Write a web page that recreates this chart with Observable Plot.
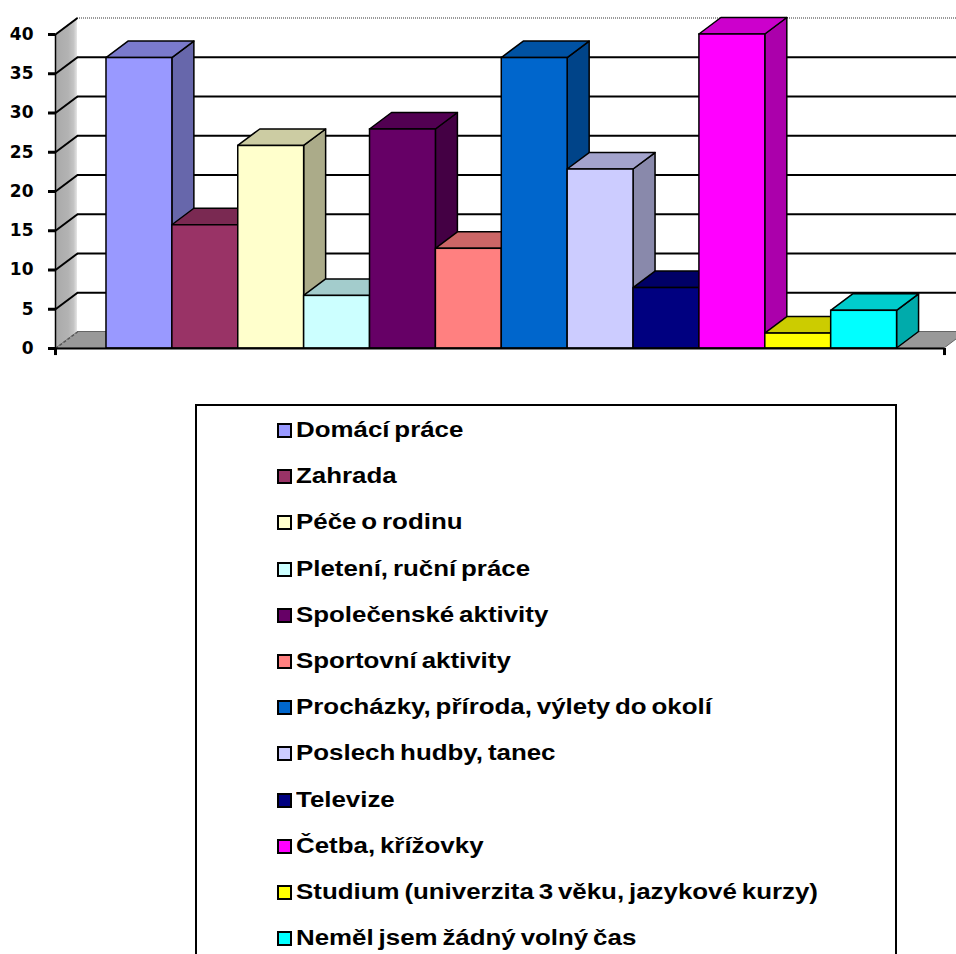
<!DOCTYPE html>
<html>
<head>
<meta charset="utf-8">
<script src="https://cdn.jsdelivr.net/npm/d3@7"></script>
<script src="https://cdn.jsdelivr.net/npm/@observablehq/plot@0.6"></script>
<style>
  html, body { margin: 0; padding: 0; background: #fff; overflow: hidden; }
  #wrap { position: relative; width: 956px; height: 954px; }
  #chart { position: absolute; left: 0; top: 0; }
  #legend {
    position: absolute; left: 195px; top: 404px; width: 698px; height: 560px;
    border: 2px solid #000; box-sizing: content-box; padding-top: 1px;
    font-family: "Liberation Sans", Arial, sans-serif;
    font-weight: bold; font-size: 22.5px; color: #000;
  }
  .row { height: 46.2px; line-height: 46.2px; padding-left: 80px; white-space: nowrap; }
  .sw { display: inline-block; width: 11px; height: 11px; border: 2px solid #000; margin-right: 4px; vertical-align: -1px; }
  .lt { display: inline-block; transform: scaleX(1.15); transform-origin: 0 50%; word-spacing: -2px; }
</style>
</head>
<body>
<div id="wrap">
  <div id="chart"></div>
  <div id="legend"></div>
</div>
<script>
const categories = [
  "Domácí práce",
  "Zahrada",
  "Péče o rodinu",
  "Pletení, ruční práce",
  "Společenské aktivity",
  "Sportovní aktivity",
  "Procházky, příroda, výlety do okolí",
  "Poslech hudby, tanec",
  "Televize",
  "Četba, křížovky",
  "Studium (univerzita 3 věku, jazykové kurzy)",
  "Neměl jsem žádný volný čas"
];
const values = [37, 15.7, 25.8, 6.7, 27.9, 12.7, 37, 22.8, 7.7, 40, 1.9, 4.8];
const colors = ["#9999FF", "#993366", "#FFFFCC", "#CCFFFF", "#660066", "#FF8080",
                "#0066CC", "#CCCCFF", "#000080", "#FF00FF", "#FFFF00", "#00FFFF"];
const yTicks = [0, 5, 10, 15, 20, 25, 30, 35, 40];

// geometry of the oblique 3D projection (in scale units)
const X0 = -0.774, X1 = 12.72, XBACK = 13.4;
const DX = 0.334, DY = 2.1;
const YMAX = 40;

function shade(c, k) {
  const r = d3.rgb(c);
  return d3.rgb(r.r * k, r.g * k, r.b * k).formatHex();
}

const bars = categories.map((c, i) => ({c, i, v: values[i], color: colors[i]}));
const sidePts = bars.flatMap(b => [
  {i: b.i, x: b.i + 1, y1: 0, y2: b.v, fill: shade(b.color, 0.67)},
  {i: b.i, x: b.i + 1 + DX, y1: DY, y2: b.v + DY, fill: shade(b.color, 0.67)}
]);
const topPts = bars.flatMap(b => [
  {i: b.i, y: b.v, x1: b.i, x2: b.i + 1, fill: shade(b.color, 0.8)},
  {i: b.i, y: b.v + DY, x1: b.i + DX, x2: b.i + 1 + DX, fill: shade(b.color, 0.8)}
]);

const floorPts = [{y: 0, x1: X0, x2: X1}, {y: DY, x1: X0 + DX, x2: X1 + DX}];
const wallPts = [{x: X0, y1: 0, y2: YMAX}, {x: X0 + DX, y1: DY, y2: YMAX + DY}];

const defsMark = () => {
  const ns = "http://www.w3.org/2000/svg";
  const defs = document.createElementNS(ns, "defs");
  const g = document.createElementNS(ns, "linearGradient");
  g.setAttribute("id", "wallGrad");
  g.setAttribute("x1", "0"); g.setAttribute("x2", "1"); g.setAttribute("y1", "0"); g.setAttribute("y2", "0");
  [["0", "#a9a9a9"], ["0.6", "#b3b3b3"], ["0.85", "#c4c4c4"], ["1", "#e6e6e6"]].forEach(([o, c]) => {
    const s = document.createElementNS(ns, "stop");
    s.setAttribute("offset", o); s.setAttribute("stop-color", c);
    g.appendChild(s);
  });
  defs.appendChild(g);
  return defs;
};

const plot = Plot.plot({
  width: 956,
  height: 400,
  marginLeft: 55,
  marginRight: 12,
  marginTop: 34,
  marginBottom: 52,
  style: {fontFamily: "DejaVu Sans, Verdana, sans-serif", fontSize: "17px", fontWeight: "bold", color: "#000", background: "#fff"},
  x: {domain: [X0, X1], axis: null},
  y: {domain: [0, YMAX], axis: null},
  color: {type: "identity"},
  marks: [
    defsMark,
    // floor
    Plot.areaX(floorPts, {y: "y", x1: "x1", x2: "x2", fill: "#999999", stroke: "#666", strokeWidth: 1}),
    // left side wall
    Plot.areaY(wallPts, {x: "x", y1: "y1", y2: "y2", fill: "url(#wallGrad)", stroke: "none"}),
    // back wall top edge (dotted)
    Plot.ruleY([YMAX], {y: d => d + DY, x1: X0 + DX, x2: XBACK, stroke: "#777", strokeWidth: 1.5, strokeDasharray: "1,1"}),
    // back wall gridlines
    Plot.ruleY(yTicks.filter(v => v > 0 && v < YMAX), {y: d => d + DY, x1: X0 + DX, x2: XBACK, stroke: "#000", strokeWidth: 2}),
    // side wall gridlines
    Plot.link(yTicks.filter(v => v > 0), {x1: X0, y1: d => d, x2: X0 + DX, y2: d => d + DY, stroke: "#000", strokeWidth: 2}),
    Plot.link([0], {x1: X0, y1: d => d, x2: X0 + DX, y2: d => d + DY, stroke: "#555", strokeWidth: 1.5, strokeDasharray: "3,2"}),
    // bars: sides, tops, fronts
    Plot.areaY(sidePts, {x: "x", y1: "y1", y2: "y2", z: "i", fill: "fill", stroke: "#000", strokeWidth: 1.5, curve: "linear"}),
    Plot.areaX(topPts, {y: "y", x1: "x1", x2: "x2", z: "i", fill: "fill", stroke: "#000", strokeWidth: 1.5, curve: "linear"}),
    Plot.rectY(bars, {x1: "i", x2: d => d.i + 1, y1: 0, y2: "v", fill: "color", stroke: "#000", strokeWidth: 1.5}),
    // axes lines
    Plot.ruleX([X0], {y1: 0, y2: YMAX, stroke: "#000", strokeWidth: 1.5}),
    Plot.ruleY([0], {x1: X0, x2: X1, stroke: "#000", strokeWidth: 2}),
    Plot.ruleX([X0, X1], {y1: 0, y2: -0.9, stroke: "#000", strokeWidth: 3}),
    Plot.axisY(yTicks, {x: X0, tickSize: 7, tickPadding: 15, strokeWidth: 3, label: null, tickFormat: d => String(d), fontSize: 17, fontWeight: "bold"})
  ]
});
document.getElementById("chart").appendChild(plot);

const legend = document.getElementById("legend");
categories.forEach((c, i) => {
  const row = document.createElement("div");
  row.className = "row";
  const sw = document.createElement("span");
  sw.className = "sw";
  sw.style.background = colors[i];
  row.appendChild(sw);
  const t = document.createElement("span");
  t.className = "lt";
  t.textContent = c;
  row.appendChild(t);
  legend.appendChild(row);
});
</script>
</body>
</html>
